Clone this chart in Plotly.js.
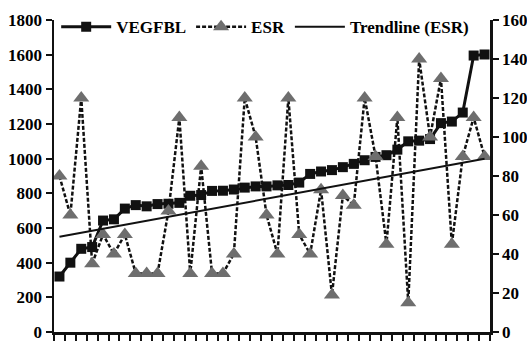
<!DOCTYPE html>
<html>
<head>
<meta charset="utf-8">
<script src="https://cdn.plot.ly/plotly-3.0.1.min.js"></script>
<style>
html,body{margin:0;padding:0;background:#fff;}
#chart{width:527px;height:341px;}
</style>
</head>
<body>
<div id="chart"></div>
<script>
// Sample index (categories, sorted by VEGFBL)
const samples = [1,2,3,4,5,6,7,8,9,10,11,12,13,14,15,16,17,18,19,20,21,22,23,24,25,26,27,28,29,30,31,32,33,34,35,36,37,38,39,40];
// VEGFBL (left axis)
const vegfbl = [320,400,480,490,643,650,712,732,725,738,740,745,786,790,814,815,822,833,840,840,846,848,862,912,926,934,951,970,991,1010,1020,1052,1100,1104,1113,1205,1214,1266,1595,1601];
// ESR (right axis)
const esr = [80,60,120,35,50,40,50,30,30,30,62,110,30,85,30,30,40,120,100,60,40,120,50,40,73,19,70,65,120,90,45,110,15,140,100,130,45,90,110,90];
const leftTicks = [0,200,400,600,800,1000,1200,1400,1600,1800];
const rightTicks = [0,20,40,60,80,100,120,140,160];

// least-squares trendline of ESR
const n = samples.length;
const mx = samples.reduce((a,b)=>a+b,0)/n;
const my = esr.reduce((a,b)=>a+b,0)/n;
let sxy=0, sxx=0;
for(let i=0;i<n;i++){sxy+=(samples[i]-mx)*(esr[i]-my); sxx+=(samples[i]-mx)**2;}
const slope = sxy/sxx, icpt = my - slope*mx;
const trendX = [samples[0], samples[n-1]];
const trendY = trendX.map(x=>icpt+slope*x);

const xTicks = [];
for(let i=0;i<=n;i++) xTicks.push(samples[0]-0.5+i);

const FAM = 'Liberation Serif, Times New Roman, serif';
const tf = {family:FAM, size:17, color:'#000', weight:'bold'};

const traces = [
  {x:samples, y:vegfbl, name:'VEGFBL', type:'scatter', mode:'lines+markers',
   line:{color:'#111', width:3}, marker:{symbol:'square', size:10, color:'#111'}, yaxis:'y'},
  {x:samples, y:esr, name:'ESR', type:'scatter', mode:'lines+markers',
   line:{color:'#111', width:2.5, dash:'4px,2px'}, marker:{symbol:'triangle-up', size:14, color:'#6e6e6e'}, yaxis:'y2'},
  {x:trendX, y:trendY, name:'Trendline (ESR)', type:'scatter', mode:'lines',
   line:{color:'#111', width:2}, yaxis:'y2'}
];

const layout = {
  width:527, height:341,
  margin:{l:54, r:37, t:17, b:9},
  paper_bgcolor:'#fff', plot_bgcolor:'#fff',
  font:{family:FAM, size:17, color:'#000'},
  showlegend:true,
  legend:{orientation:'h', x:0.005, xanchor:'left', y:1.035, yanchor:'top',
          font:tf, bgcolor:'rgba(0,0,0,0)', itemwidth:50, tracegroupgap:0},
  xaxis:{range:[0.5,40.5], tickvals:xTicks, showticklabels:false, ticks:'outside', ticklen:6, tickwidth:2,
         tickcolor:'#111', showline:true, linecolor:'#111', linewidth:2.5, showgrid:false, zeroline:false},
  yaxis:{range:[0,1800], tickvals:leftTicks, ticks:'outside', ticklen:6, tickwidth:2, tickcolor:'#111',
         showline:true, linecolor:'#111', linewidth:2.5, showgrid:false, zeroline:false,
         ticklabeloverflow:'allow', tickfont:tf},
  yaxis2:{range:[0,160], tickvals:rightTicks, overlaying:'y', side:'right', ticks:'outside', ticklen:6, tickwidth:2,
          tickcolor:'#111', showline:true, linecolor:'#111', linewidth:2.5, showgrid:false, zeroline:false,
          ticklabeloverflow:'allow', tickfont:tf}
};

Plotly.newPlot('chart', traces, layout, {staticPlot:true, displayModeBar:false});
</script>
</body>
</html>
